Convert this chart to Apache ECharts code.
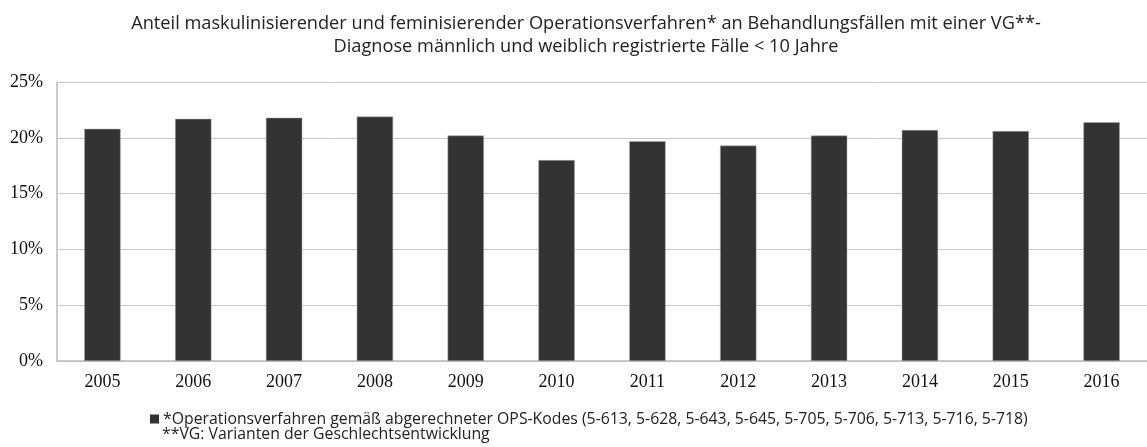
<!DOCTYPE html>
<html>
<head>
<meta charset="utf-8">
<script src="https://cdn.jsdelivr.net/npm/echarts@6/dist/echarts.min.js"></script>
<style>
  html, body { margin: 0; padding: 0; background: #fff; }
  #chart { width: 1147px; height: 447px; }
</style>
</head>
<body>
<div id="chart"></div>
<script>
const years = ["2005", "2006", "2007", "2008", "2009", "2010", "2011", "2012", "2013", "2014", "2015", "2016"];
const shares = [20.8, 21.7, 21.8, 21.9, 20.2, 18.0, 19.7, 19.3, 20.2, 20.7, 20.6, 21.4];
const seriesName = "*Operationsverfahren gemäß abgerechneter OPS-Kodes (5-613, 5-628, 5-643, 5-645, 5-705, 5-706, 5-713, 5-716, 5-718)";
const footnote = "**VG: Varianten der Geschlechtsentwicklung";
const titleLine1 = "Anteil maskulinisierender und feminisierender Operationsverfahren* an Behandlungsfällen mit einer VG**-";
const titleLine2 = "Diagnose männlich und weiblich registrierte Fälle < 10 Jahre";

const titleStyle = {
  fontFamily: "Open Sans",
  fontSize: 18.2,
  fontWeight: "normal",
  color: "#222",
  lineHeight: 23
};

const chart = echarts.init(document.getElementById("chart"));
chart.setOption({
  animation: false,
  title: [
    { text: titleLine1, left: 586, textAlign: "center", top: 12, padding: 0, textStyle: titleStyle },
    { text: titleLine2, left: 586, textAlign: "center", top: 35, padding: 0, textStyle: titleStyle }
  ],
  grid: { left: 57, right: 0, top: 82, bottom: 86, containLabel: false },
  xAxis: {
    type: "category",
    data: years,
    axisLine: { lineStyle: { color: "#bbb", width: 1.5 } },
    axisTick: { show: false },
    axisLabel: { fontFamily: "Liberation Serif", fontSize: 18, color: "#111", margin: 12 }
  },
  yAxis: {
    type: "value",
    min: 0,
    max: 25,
    interval: 5,
    axisLine: { show: true, lineStyle: { color: "#bbb", width: 1.5 } },
    axisTick: { show: false },
    splitLine: { lineStyle: { color: "#c8c8c8", width: 1 } },
    axisLabel: { formatter: "{value}%", fontFamily: "Liberation Serif", fontSize: 18, color: "#111", margin: 14 }
  },
  legend: {
    data: [{ name: seriesName, itemStyle: { color: "#333333", borderWidth: 0 } }],
    left: 145,
    top: 406,
    icon: "rect",
    itemWidth: 9,
    itemHeight: 9,
    itemGap: 4,
    textStyle: { fontFamily: "Open Sans", fontSize: 15.8, color: "#222", padding: [0, 0, 0, -1] }
  },
  graphic: [{
    type: "text",
    left: 162,
    top: 426,
    style: { text: footnote, font: "15.8px 'Open Sans'", fill: "#222" }
  }],
  series: [{
    name: seriesName,
    type: "bar",
    data: shares,
    barWidth: "40%",
    itemStyle: { color: "#333333", borderColor: "#aaa", borderWidth: 0.5 }
  }]
});
</script>
</body>
</html>
